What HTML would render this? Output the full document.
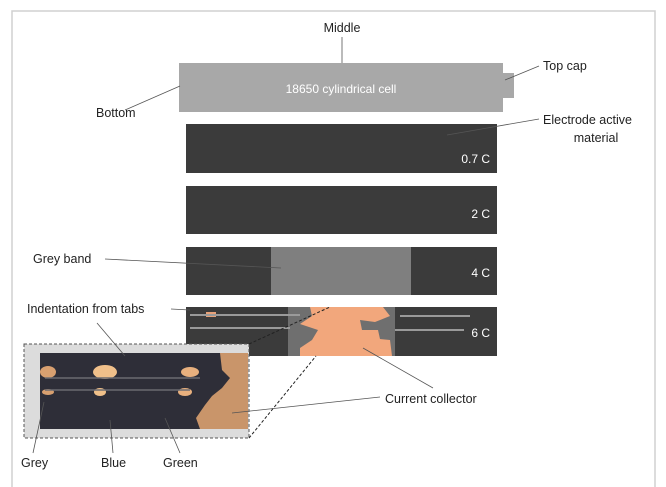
<!DOCTYPE html>
<html><head><meta charset="utf-8"><style>
html,body{margin:0;padding:0;background:#fff;}
svg{display:block;font-family:"Liberation Sans",sans-serif;}
</style></head><body>
<svg width="666" height="487" viewBox="0 0 666 487" xmlns="http://www.w3.org/2000/svg">
<rect x="0" y="0" width="666" height="487" fill="#fff"/>
<path d="M12 487 V11 H655 V487" fill="none" stroke="#d0d0d0" stroke-width="1.5"/>
<g font-size="12.5" fill="#222">
<text x="342" y="32" text-anchor="middle">Middle</text>
<text x="543" y="70">Top cap</text>
<text x="96" y="117">Bottom</text>
<text x="543" y="124">Electrode active</text>
<text x="596" y="142" text-anchor="middle">material</text>
<text x="33" y="263">Grey band</text>
<text x="27" y="313">Indentation from tabs</text>
<text x="385" y="403">Current collector</text>
<text x="21" y="467">Grey</text>
<text x="101" y="467">Blue</text>
<text x="163" y="467">Green</text>
</g>
<!-- cell -->
<rect x="179" y="63" width="324" height="49" fill="#a8a8a8"/>
<rect x="503" y="73" width="11" height="25" fill="#a8a8a8"/>
<text x="341" y="93" text-anchor="middle" font-size="12" fill="#fff">18650 cylindrical cell</text>
<!-- bars -->
<rect x="186" y="124" width="311" height="49" fill="#3b3b3b"/>
<rect x="186" y="186" width="311" height="48" fill="#3b3b3b"/>
<rect x="186" y="247" width="311" height="48" fill="#3b3b3b"/>
<rect x="271" y="247" width="140" height="48" fill="#7f7f7f"/>
<rect x="186" y="307" width="311" height="49" fill="#3b3b3b"/>
<rect x="288" y="307" width="107" height="49" fill="#6f6f6f"/>
<path d="M310 307 H383 L390 316 L375 322 L360 320 L362 330 L378 330 L380 339 L390 340 L392 356 H300 L300 348 L312 340 L318 330 L300 324 L312 316 Z" fill="#f2a77c"/>
<rect x="206" y="312" width="10" height="5" fill="#e8a27a"/>
<g stroke="#9a9a9a" stroke-width="2">
<line x1="190" y1="315" x2="300" y2="315"/>
<line x1="190" y1="328" x2="290" y2="328"/>
<line x1="400" y1="316" x2="470" y2="316"/>
<line x1="395" y1="330" x2="464" y2="330"/>
</g>
<g font-size="12" fill="#fff" text-anchor="end">
<text x="490" y="163">0.7 C</text>
<text x="490" y="218">2 C</text>
<text x="490" y="277">4 C</text>
<text x="490" y="337">6 C</text>
</g>
<!-- photo -->
<rect x="24" y="344" width="225" height="94" fill="#dcdcdc" stroke="#555" stroke-width="1" stroke-dasharray="3,2"/>
<rect x="40" y="353" width="208" height="76" fill="#2e2e38"/>
<path d="M220 353 H248 V429 H200 L196 418 L205 405 L212 396 L222 388 L230 378 L222 370 Z" fill="#c9956a"/>
<ellipse cx="105" cy="372" rx="12" ry="7" fill="#f0c08a"/>
<ellipse cx="190" cy="372" rx="9" ry="5" fill="#e8b07e"/>
<ellipse cx="48" cy="372" rx="8" ry="6" fill="#d8a070"/>
<ellipse cx="100" cy="392" rx="6" ry="4" fill="#f0c08a"/>
<ellipse cx="185" cy="392" rx="7" ry="4" fill="#e8b07e"/>
<ellipse cx="48" cy="392" rx="6" ry="3" fill="#d8a070"/>
<g stroke="#6a6a70" stroke-width="1.5">
<line x1="45" y1="378" x2="200" y2="378"/>
<line x1="45" y1="390" x2="190" y2="390"/>
</g>
<!-- leader lines -->
<g stroke="#555" stroke-width="0.8" fill="none">
<line x1="342" y1="37" x2="342" y2="63"/>
<line x1="505" y1="80" x2="539" y2="66"/>
<line x1="125" y1="110" x2="180" y2="86"/>
<line x1="447" y1="135" x2="539" y2="119"/>
<line x1="105" y1="259" x2="281" y2="268"/>
<line x1="171" y1="309" x2="190" y2="310"/>
<line x1="97" y1="323" x2="125" y2="356"/>
<line x1="363" y1="348" x2="433" y2="388"/>
<line x1="232" y1="413" x2="380" y2="397"/>
<line x1="33" y1="453" x2="44" y2="402"/>
<line x1="113" y1="453" x2="110" y2="420"/>
<line x1="180" y1="453" x2="165" y2="418"/>
</g>
<g stroke="#222" stroke-width="1" stroke-dasharray="3,2">
<line x1="249" y1="344" x2="330" y2="307"/>
<line x1="249" y1="438" x2="316" y2="356"/>
</g>
</svg>
</body></html>
